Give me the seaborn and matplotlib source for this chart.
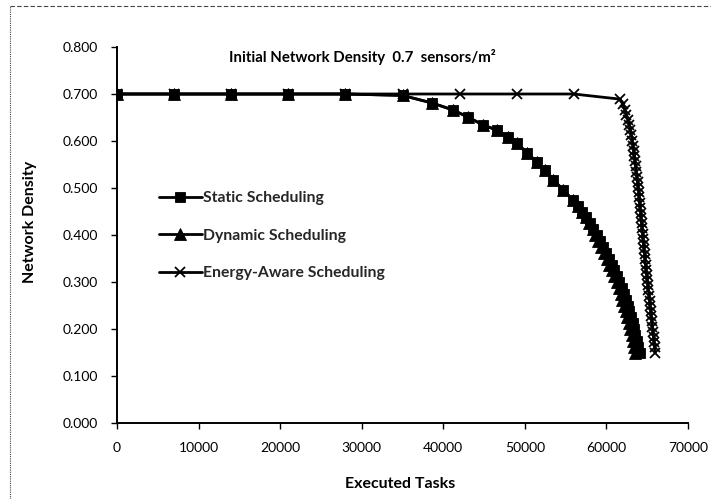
import matplotlib
matplotlib.use("Agg")
import matplotlib.pyplot as plt
from matplotlib.lines import Line2D
import seaborn as sns
import pandas as pd

# Executed tasks (x) and network density (y) for each scheduling policy
static_tasks = [0, 7000, 14000, 21000, 28000, 35000, 38600, 41200, 43000, 44900,
                46600, 47900, 49000, 50300, 51500, 52500, 53500, 54700, 55900, 56500,
                57000, 57500, 58000, 58400, 58800, 59200, 59600, 59950, 60300, 60650,
                60950, 61300, 61600, 61850, 62100, 62350, 62600, 62800, 63000, 63200,
                63400, 63550, 63700, 63900, 64100]
static_density = [0.700, 0.700, 0.700, 0.700, 0.700, 0.697, 0.681, 0.666, 0.651, 0.634,
                  0.623, 0.609, 0.596, 0.574, 0.555, 0.538, 0.517, 0.496, 0.474, 0.462,
                  0.450, 0.438, 0.425, 0.413, 0.400, 0.388, 0.375, 0.362, 0.350, 0.337,
                  0.325, 0.312, 0.300, 0.288, 0.275, 0.262, 0.250, 0.238, 0.225, 0.212,
                  0.200, 0.188, 0.175, 0.162, 0.150]

dynamic_tasks = [0, 7000, 14000, 21000, 28000, 35000, 38600, 41200, 43000, 44900,
                 46600, 47900, 49000, 50300, 51500, 52500, 53500, 54700, 55900, 56500,
                 57000, 57450, 57900, 58300, 58650, 59000, 59350, 59700, 60050, 60350,
                 60650, 60950, 61250, 61500, 61750, 61950, 62150, 62350, 62550, 62750,
                 62950, 63100, 63250, 63400, 63550]
dynamic_density = [0.700, 0.700, 0.700, 0.700, 0.700, 0.697, 0.681, 0.666, 0.651, 0.634,
                   0.623, 0.609, 0.596, 0.574, 0.555, 0.538, 0.517, 0.496, 0.474, 0.462,
                   0.450, 0.438, 0.425, 0.413, 0.400, 0.388, 0.375, 0.362, 0.350, 0.337,
                   0.325, 0.312, 0.300, 0.288, 0.275, 0.262, 0.250, 0.238, 0.225, 0.212,
                   0.200, 0.188, 0.175, 0.162, 0.150]

energy_tasks = [0, 7000, 14000, 21000, 28000, 35000, 42000, 49000, 56000, 61700,
                62000, 62250, 62450, 62650, 62800, 62950, 63050, 63150, 63250, 63350,
                63420, 63500, 63580, 63660, 63740, 63820, 63900, 63960, 64020, 64080,
                64140, 64200, 64260, 64320, 64380, 64440, 64500, 64560, 64620, 64680,
                64740, 64800, 64870, 64940, 65010, 65080, 65150, 65220, 65290, 65360,
                65430, 65500, 65570, 65640, 65710, 65780, 65850, 65920, 66000]
energy_density = [0.700, 0.700, 0.700, 0.700, 0.700, 0.700, 0.700, 0.700, 0.700, 0.689,
                  0.678, 0.667, 0.656, 0.645, 0.634, 0.623, 0.612, 0.601, 0.590, 0.579,
                  0.568, 0.557, 0.546, 0.535, 0.524, 0.513, 0.502, 0.491, 0.480, 0.469,
                  0.458, 0.447, 0.436, 0.425, 0.414, 0.403, 0.392, 0.381, 0.370, 0.359,
                  0.348, 0.337, 0.326, 0.315, 0.304, 0.293, 0.282, 0.271, 0.260, 0.249,
                  0.238, 0.227, 0.216, 0.205, 0.194, 0.183, 0.172, 0.161, 0.150]

series_names = ["Static Scheduling", "Dynamic Scheduling", "Energy-Aware Scheduling"]
x_ticks = [0, 10000, 20000, 30000, 40000, 50000, 60000, 70000]
y_ticks = [0.0, 0.1, 0.2, 0.3, 0.4, 0.5, 0.6, 0.7, 0.8]

sns.set_theme(style="white")
plt.rcParams["font.family"] = ["Lato", "DejaVu Sans"]

W, H = 711, 499
fig = plt.figure(figsize=(W / 100, H / 100), dpi=100)
ax = fig.add_axes([117 / W, 1 - 423 / H, 571 / W, 376 / H])

styles = [
    dict(marker="s", markersize=7.8, markeredgewidth=0.6),
    dict(marker="^", markersize=8, markeredgewidth=0.6),
    dict(marker="x", markersize=7.5, markeredgewidth=1.3),
]
data = [(static_tasks, static_density), (dynamic_tasks, dynamic_density),
        (energy_tasks, energy_density)]

# draw energy-aware first so the static squares sit on top of the dynamic triangles
order = [2, 1, 0]
for i in order:
    xs, ys = data[i]
    df = pd.DataFrame({"tasks": xs, "density": ys})
    sns.lineplot(data=df, x="tasks", y="density", ax=ax, sort=False, estimator=None,
                 color="black", linewidth=2.0, markeredgecolor="black",
                 markerfacecolor="black", **styles[i])

ax.set_xlim(0, 70000)
ax.set_ylim(0, 0.8)
ax.set_xticks(x_ticks)
ax.set_yticks(y_ticks)
ax.set_xticklabels([str(t) for t in x_ticks], fontsize=10)
ax.set_yticklabels([f"{v:.3f}" for v in y_ticks], fontsize=10)
ax.tick_params(axis="both", direction="out", length=4, width=1, color="black",
               labelcolor="black", bottom=True, left=True)
ax.tick_params(axis="x", pad=10)
ax.tick_params(axis="y", pad=10)
for side in ["top", "right"]:
    ax.spines[side].set_visible(False)
for side in ["left", "bottom"]:
    ax.spines[side].set_color("black")
    ax.spines[side].set_linewidth(1.4)

ax.set_xlabel("Executed Tasks", fontsize=11.5, fontweight="bold", color="black")
ax.set_ylabel("Network Density", fontsize=11.5, fontweight="bold", color="black")
ax.xaxis.set_label_coords((400 - 117) / 571, -(477 - 423) / 376)
ax.yaxis.set_label_coords(-(117 - 37) / 571, (423 - 222) / 376)

fig.text(362 / W, 1 - 57 / H, "Initial Network Density  0.7  sensors/m²",
         ha="center", va="center", fontsize=10.8, fontweight="bold", color="black")

handles = [Line2D([], [], color="black", linewidth=2.0, markerfacecolor="black",
                  markeredgecolor="black", **styles[i]) for i in range(3)]
leg = ax.legend(handles, series_names, loc="upper left",
                bbox_to_anchor=(145 / W, 1 - 177 / H), bbox_transform=fig.transFigure,
                frameon=False, handlelength=2.7, handletextpad=0.1,
                labelspacing=1.5, prop={"weight": "bold", "size": 11.3})

# dotted chart border
fig.add_artist(Line2D([10 / W, 10 / W], [0, 1 - 6 / H], transform=fig.transFigure,
                      color="#444444", linewidth=0.8, linestyle=(0, (1, 1))))
fig.add_artist(Line2D([10 / W, 1], [1 - 6 / H, 1 - 6 / H], transform=fig.transFigure,
                      color="#444444", linewidth=0.8, linestyle=(0, (4, 2))))

fig.savefig("out.png", dpi=100, facecolor="white")
